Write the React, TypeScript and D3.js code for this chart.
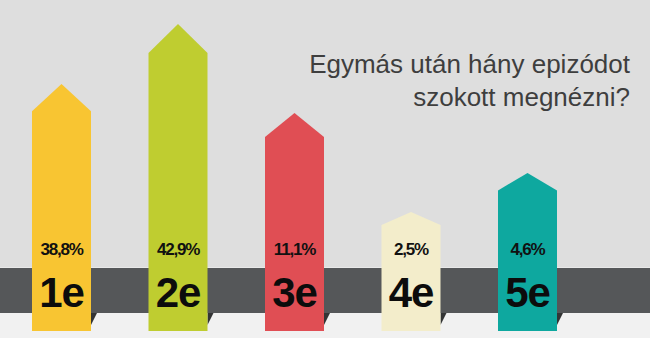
import React from "react";
import * as d3 from "d3";

const categories = ["1e", "2e", "3e", "4e", "5e"];
const values = [38.8, 42.9, 11.1, 2.5, 4.6];
const valueLabels = ["38,8%", "42,9%", "11,1%", "2,5%", "4,6%"];
const colors = ["#f8c532", "#bfcd30", "#e04e54", "#f3edcb", "#0ea89f"];
const titleLines = ["Egymás után hány epizódot", "szokott megnézni?"];

const W = 650;
const H = 338;

export default function App() {
  const baseY = 331;
  const bandTop = 268;
  const bandBottom = 313;
  const barW = 59;

  const x = d3.scalePoint<string>().domain(categories).range([61.5, 527.5]);
  // infographic arrow lengths: monotonic in value but not proportional
  const sorted = [...values].sort((a, b) => a - b);
  const h = d3
    .scaleLinear()
    .domain([0, ...sorted])
    .range([0, 119, 158, 218, 247, 307]);

  const arrowPath = (cx: number, len: number) => {
    const head = Math.min(29, len * 0.11);
    const p = d3.path();
    const l = cx - barW / 2;
    const r = cx + barW / 2;
    const top = baseY - len;
    p.moveTo(l, baseY);
    p.lineTo(l, top + head);
    p.lineTo(cx, top);
    p.lineTo(r, top + head);
    p.lineTo(r, baseY);
    p.closePath();
    return p.toString();
  };

  return (
    <svg width={W} height={H} style={{ position: "absolute", left: 0, top: 0 }}>
      <rect x={0} y={0} width={W} height={H} fill="#dedede" />
      <rect x={0} y={bandBottom} width={W} height={H - bandBottom} fill="#f1f1f1" />
      <rect x={0} y={bandTop} width={W} height={bandBottom - bandTop} fill="#555759" />
      <rect x={0} y={bandTop - 1} width={W} height={1} fill="#e9e9e9" />
      {titleLines.map((t, i) => (
        <text
          key={i}
          x={630}
          y={73 + i * 33}
          textAnchor="end"
          fontFamily="Liberation Sans, Arial, sans-serif"
          fontSize={26}
          fill="#3e3e3e"
        >
          {t}
        </text>
      ))}
      {categories.map((c, i) => {
        const cx = x(c)!;
        const len = h(values[i]);
        const r = cx + barW / 2;
        return (
          <g key={c}>
            <path
              d={`M${r},${bandBottom}L${r + 6},${bandBottom}L${r},${bandBottom + 12}Z`}
              fill="#333435"
            />
            <path d={arrowPath(cx, len)} fill={colors[i]} />
            <text
              x={cx}
              y={255}
              textAnchor="middle"
              fontFamily="Liberation Sans, Arial, sans-serif"
              fontWeight="bold"
              fontSize={17}
              letterSpacing={-1.2}
              fill="#111"
            >
              {valueLabels[i]}
            </text>
            <text
              x={cx}
              y={307}
              textAnchor="middle"
              fontFamily="Liberation Sans, Arial, sans-serif"
              fontWeight="bold"
              fontSize={42}
              letterSpacing={-1.2}
              fill="#0c0c0c"
            >
              {c}
            </text>
          </g>
        );
      })}
    </svg>
  );
}
